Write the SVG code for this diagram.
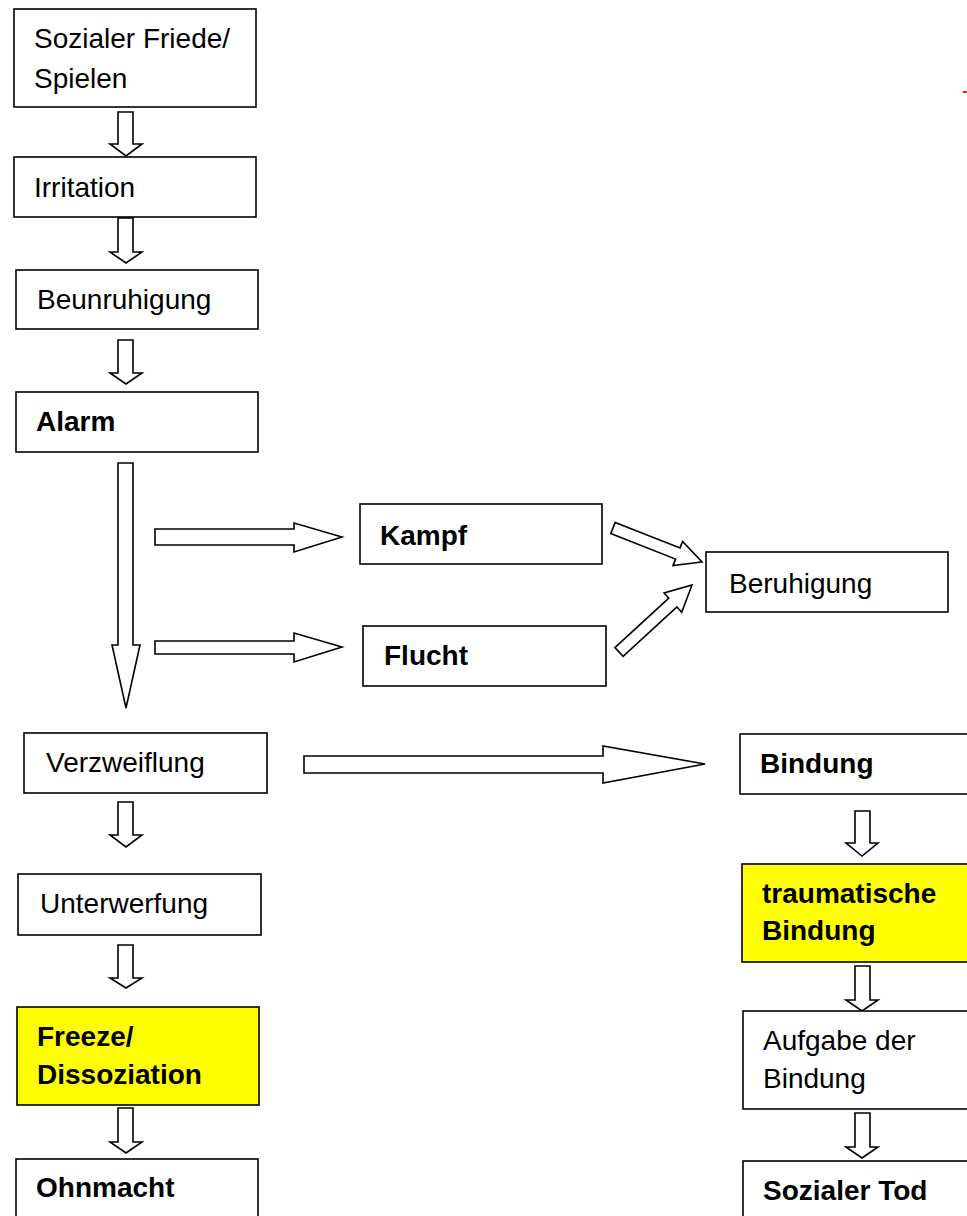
<svg xmlns="http://www.w3.org/2000/svg" width="967" height="1216" viewBox="0 0 967 1216">
<style>
.box{fill:#fff;stroke:#000;stroke-width:1.6}
.hl{fill:#ffff00;stroke:#000;stroke-width:1.6}
.arr{fill:#fff;stroke:#000;stroke-width:1.6;stroke-linejoin:miter}
text{font-family:"Liberation Sans",Arial,sans-serif;font-size:28px;fill:#000}
.b{font-weight:bold}
</style>
<rect width="967" height="1216" fill="#fff"/>
<g id="connectors">
<polygon class="arr" points="118,112 133,112 133,144 142,144 126,156 110,144 118,144"/>
<polygon class="arr" points="118,218 133,218 133,252 142,252 126,263 110,252 118,252"/>
<polygon class="arr" points="118,340 133,340 133,373 142,373 126,384 110,373 118,373"/>
<polygon class="arr" points="118,463 133,463 133,645 140,645 126,708 112,645 118,645"/>
<polygon class="arr" points="155,529 294,529 294,523 342,537 294,552 294,545 155,545"/>
<polygon class="arr" points="155,641 294,641 294,633 342,647 294,662 294,654 155,654"/>
<polygon class="arr" points="615.2,522.4 680,547.9 682.6,541.4 702,562 673,565.6 675.6,559.1 610.8,533.6"/>
<polygon class="arr" points="614.9,647.6 668.8,598.2 664.1,593 692,585 681.7,612.2 676.9,607 623.1,656.4"/>
<polygon class="arr" points="304,756 603,756 603,746 705,764 603,783 603,773 304,773"/>
<polygon class="arr" points="118,802 133,802 133,835 142,835 126,847 110,835 118,835"/>
<polygon class="arr" points="118,945 133,945 133,978 142,978 126,988 110,978 118,978"/>
<polygon class="arr" points="118,1108 133,1108 133,1142 142,1142 126,1153 110,1142 118,1142"/>
<polygon class="arr" points="855,811 870,811 870,843 878,843 862,856 846,843 855,843"/>
<polygon class="arr" points="855,966 870,966 870,1000 878,1000 862,1011 846,1000 855,1000"/>
<polygon class="arr" points="855,1113 870,1113 870,1147 878,1147 862,1158 846,1147 855,1147"/>
</g>
<g id="n-frieden"><rect class="box" x="14" y="9" width="242" height="98"/><text x="34" y="48">Sozialer Friede/</text><text x="34" y="88">Spielen</text></g>
<g id="n-irritation"><rect class="box" x="14" y="157" width="242" height="60"/><text x="34" y="197">Irritation</text></g>
<g id="n-beunruhigung"><rect class="box" x="16" y="270" width="242" height="59"/><text x="37" y="309">Beunruhigung</text></g>
<g id="n-alarm"><rect class="box" x="16" y="392" width="242" height="60"/><text class="b" x="36" y="431">Alarm</text></g>
<g id="n-kampf"><rect class="box" x="360" y="504" width="242" height="60"/><text class="b" x="380" y="545">Kampf</text></g>
<g id="n-flucht"><rect class="box" x="363" y="626" width="243" height="60"/><text class="b" x="384" y="665">Flucht</text></g>
<g id="n-beruhigung"><rect class="box" x="706" y="552" width="242" height="60"/><text x="729" y="593">Beruhigung</text></g>
<g id="n-verzweiflung"><rect class="box" x="24" y="733" width="243" height="60"/><text x="46" y="772">Verzweiflung</text></g>
<g id="n-unterwerfung"><rect class="box" x="18" y="874" width="243" height="61"/><text x="40" y="913">Unterwerfung</text></g>
<g id="n-freeze"><rect class="hl" x="17" y="1007" width="242" height="98"/><text class="b" x="37" y="1046">Freeze/</text><text class="b" x="37" y="1084">Dissoziation</text></g>
<g id="n-ohnmacht"><rect class="box" x="16" y="1159" width="242" height="70"/><text class="b" x="36" y="1197">Ohnmacht</text></g>
<g id="n-bindung"><rect class="box" x="740" y="734" width="250" height="60"/><text class="b" x="760" y="773">Bindung</text></g>
<g id="n-trauma"><rect class="hl" x="742" y="864" width="250" height="98"/><text class="b" x="762" y="903">traumatische</text><text class="b" x="762" y="940">Bindung</text></g>
<g id="n-aufgabe"><rect class="box" x="743" y="1011" width="250" height="98"/><text x="763" y="1050">Aufgabe der</text><text x="763" y="1088">Bindung</text></g>
<g id="n-tod"><rect class="box" x="743" y="1161" width="250" height="70"/><text class="b" x="763" y="1200">Sozialer Tod</text></g>
<rect x="963" y="91" width="4" height="2" fill="#e02020"/>
</svg>
